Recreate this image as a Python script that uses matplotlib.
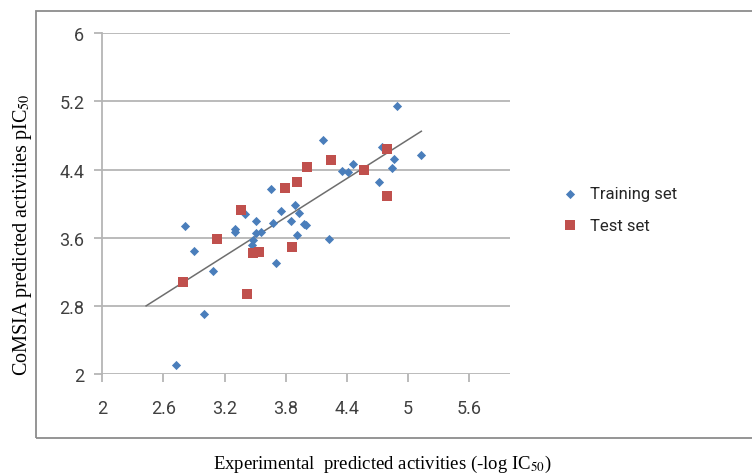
import matplotlib
matplotlib.use('Agg')
import matplotlib.pyplot as plt
from matplotlib.patches import Rectangle

# --- data ---
train_x = [4.889, 4.169, 4.742, 5.128, 4.863, 4.463, 4.349, 4.414, 4.840, 4.718,
           3.656, 3.751, 3.891, 3.933, 3.400, 2.812, 2.900, 2.995, 2.723, 3.086,
           3.302, 3.302, 3.505, 3.505, 3.554, 3.482, 3.472, 3.705, 3.678, 3.852,
           3.979, 3.999, 3.914, 4.222]
train_y = [5.148, 4.749, 4.663, 4.573, 4.526, 4.460, 4.389, 4.370, 4.417, 4.260,
           4.171, 3.917, 3.984, 3.890, 3.882, 3.737, 3.448, 2.709, 2.100, 3.213,
           3.706, 3.663, 3.791, 3.655, 3.663, 3.569, 3.510, 3.304, 3.773, 3.791,
           3.761, 3.745, 3.636, 3.580]

test_x = [4.791, 4.247, 4.006, 4.571, 3.914, 3.790, 4.791, 3.361, 3.122, 3.482,
          3.538, 3.859, 2.795, 3.423]
test_y = [4.636, 4.518, 4.433, 4.397, 4.253, 4.183, 4.093, 3.920, 3.589, 3.421,
          3.433, 3.491, 3.081, 2.944]

trend_x = [2.43, 5.13]
trend_y = [2.80, 4.85]

x_ticks = [2, 2.6, 3.2, 3.8, 4.4, 5, 5.6]
x_labels = ['2', '2.6', '3.2', '3.8', '4.4', '5', '5.6']
y_ticks = [2, 2.8, 3.6, 4.4, 5.2, 6]
y_labels = ['2', '2.8', '3.6', '4.4', '5.2', '6']

plt.rcParams['mathtext.fontset'] = 'stix'
tick_font = ['Roboto', 'DejaVu Sans']
serif_font = ['Liberation Serif', 'DejaVu Serif']

fig = plt.figure(figsize=(7.52, 4.77), dpi=100)
fig.patch.set_facecolor('white')

# outer frame (runs off the right edge)
fig.patches.append(Rectangle((36 / 752, 1 - 439 / 477), 1.0, (439 - 12) / 477,
                             transform=fig.transFigure, fill=False,
                             edgecolor='#8c8c8c', linewidth=1.3))

ax = fig.add_axes([102.3 / 752, 1 - 375 / 477, (510 - 102.3) / 752, (375 - 34.3) / 477])
ax.set_xlim(2, 6)
ax.set_ylim(2, 6)

ax.grid(axis='y', color='#b5b5b5', linewidth=1.3)
ax.set_axisbelow(True)
for s in ['top', 'right', 'bottom']:
    ax.spines[s].set_visible(False)
ax.spines['left'].set_color('#b5b5b5')
ax.spines['left'].set_linewidth(1.3)

ax.set_xticks(x_ticks)
ax.set_xticklabels(x_labels, fontfamily=tick_font, fontsize=13, color='#404040')
ax.set_yticks(y_ticks)
ax.set_yticklabels(y_labels, fontfamily=tick_font, fontsize=13, color='#404040')
ax.tick_params(axis='both', length=6, width=1.3, color='#b5b5b5')
ax.tick_params(axis='y', pad=7)
ax.tick_params(axis='x', pad=12)

ax.plot(trend_x, trend_y, color='#6e6e6e', linewidth=1.1, zorder=2)
ax.scatter(train_x, train_y, marker='D', s=22, color='#4a7ebb', zorder=3,
           label='Training set', linewidths=0)
ax.scatter(test_x, test_y, marker='s', s=50, color='#c0504d', zorder=4,
           label='Test set', linewidths=0)

leg = fig.legend(loc='upper left', bbox_to_anchor=(545 / 752, 1 - 172 / 477),
                 frameon=False, prop={'family': tick_font, 'size': 12},
                 handletextpad=0.6, labelspacing=1.0, handlelength=1.2)
for t in leg.get_texts():
    t.set_color('#262626')

fig.text(23 / 752, 1 - 235 / 477, r'CoMSIA predicted activities pIC$_{50}$',
         rotation=90, ha='center', va='center', fontfamily=serif_font, fontsize=14.5)
fig.text(382 / 752, 1 - 464 / 477, r'Experimental  predicted activities (-log IC$_{50}$)',
         ha='center', va='center', fontfamily=serif_font, fontsize=13.5)

fig.savefig('out.png', dpi=100)
